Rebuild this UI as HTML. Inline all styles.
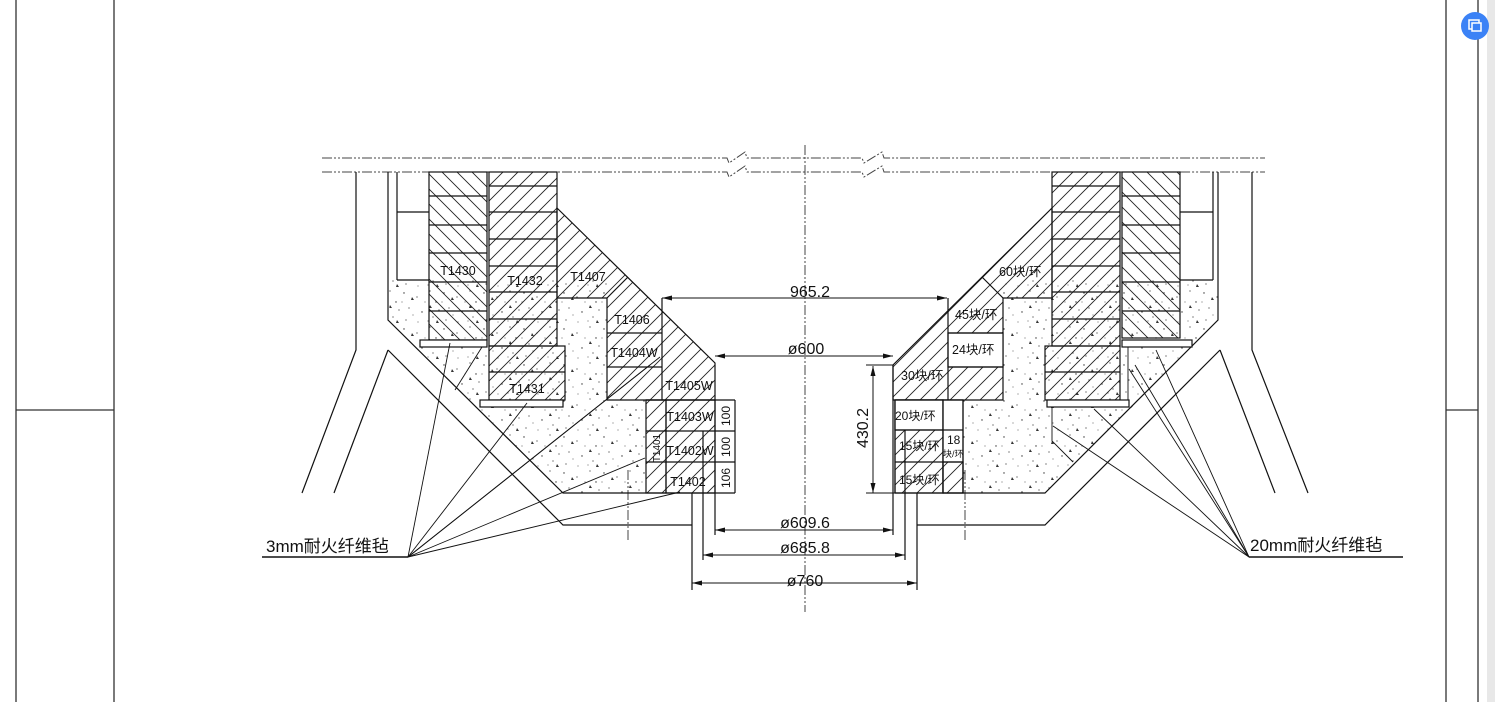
<!DOCTYPE html>
<html><head><meta charset="utf-8"><style>
html,body{margin:0;padding:0;background:#fff;}
svg{display:block}
text{font-family:"Liberation Sans","Noto Sans CJK SC",sans-serif;fill:#111}
</style></head><body>
<svg width="1495" height="702" viewBox="0 0 1495 702" xmlns="http://www.w3.org/2000/svg">
<defs>
<pattern id="hf" width="15" height="15" patternUnits="userSpaceOnUse"><path d="M-4,4 L4,-4 M0,15 L15,0 M11,19 L19,11" stroke="#222" stroke-width="0.9"/></pattern>
<pattern id="hb" width="15" height="15" patternUnits="userSpaceOnUse"><path d="M-4,11 L4,19 M0,0 L15,15 M11,-4 L19,4" stroke="#222" stroke-width="0.9"/></pattern>
<pattern id="cc" width="40" height="36" patternUnits="userSpaceOnUse">
<g fill="#333"><circle cx="4" cy="5" r="0.7"/><circle cx="17" cy="9" r="0.6"/><circle cx="30" cy="3" r="0.6"/><circle cx="36" cy="14" r="0.7"/><circle cx="9" cy="20" r="0.6"/><circle cx="22" cy="24" r="0.7"/><circle cx="33" cy="29" r="0.6"/><circle cx="6" cy="32" r="0.6"/><circle cx="18" cy="34" r="0.5"/><circle cx="39" cy="22" r="0.6"/><circle cx="25" cy="14" r="0.5"/><circle cx="13" cy="27" r="0.5"/><circle cx="2" cy="14" r="0.5"/><circle cx="28" cy="33" r="0.5"/>
<path d="M29,20 l3,0 l-2,-3z M11,12 l3,0 l-2,-3z M36,35 l3,0 l-2,-3z"/></g></pattern>
</defs>
<rect x="1487" y="0" width="8" height="702" fill="#e8e8e8"/>
<g stroke="#333" stroke-width="1.3">
<line x1="16" y1="0" x2="16" y2="702"/><line x1="114" y1="0" x2="114" y2="702"/>
<line x1="1446" y1="0" x2="1446" y2="702"/><line x1="1478" y1="0" x2="1478" y2="702"/>
<line x1="16" y1="410" x2="114" y2="410"/><line x1="1446" y1="410" x2="1478" y2="410"/>
</g>
<circle cx="1475" cy="26" r="14" fill="#3b82f6"/>
<rect x="1469" y="20" width="10" height="9" fill="none" stroke="#fff" stroke-width="1.5"/>
<rect x="1472" y="23" width="9" height="8" fill="#3b82f6" stroke="#fff" stroke-width="1.5"/>

<g stroke="#444" stroke-width="1" stroke-dasharray="10,2,2,2,2,2" fill="none">
<path d="M322,158 H727 L729,163 L745,152 L747,158 H862 L864,163 L882,152 L884,158 H1265"/>
<path d="M322,172 H727 L729,177 L745,166 L747,172 H862 L864,177 L882,166 L884,172 H1265"/>
<line x1="805" y1="145" x2="805" y2="612"/>
<line x1="628" y1="470" x2="628" y2="540"/>
<line x1="965" y1="470" x2="965" y2="540"/>
</g>

<polygon points="388,280 607,280 607,400 646,400 646,493 563,493 390,320" fill="url(#cc)"/>
<polygon points="963,400 1003,400 1003,280 1218,280 1218,320 1047,493 963,493" fill="url(#cc)"/>

<g stroke="#111" stroke-width="1.2" fill="none">
<polyline points="356,172 356,350 302,493"/>
<line x1="388" y1="350" x2="334" y2="493"/>
<polyline points="388,350 563,525 692,525"/>
<polyline points="388,172 388,320 563,493 646,493"/>
<line x1="397" y1="172" x2="397" y2="280"/>
<line x1="397" y1="212" x2="429" y2="212"/><line x1="397" y1="280" x2="429" y2="280"/>
<rect x="429" y="172" width="58" height="168" fill="url(#hb)"/>
<path d="M429,196H487M429,225H487M429,253H487M429,282H487M429,311H487"/>
<rect x="420" y="340" width="67" height="7" fill="#fff"/>
<rect x="489" y="172" width="68" height="174" fill="url(#hf)"/>
<path d="M489,186H557M489,212H557M489,239H557M489,266H557M489,292H557M489,319H557"/>
<rect x="489" y="346" width="76" height="54" fill="url(#hf)"/>
<line x1="489" y1="372" x2="565" y2="372"/>
<rect x="480" y="400" width="83" height="7" fill="#fff"/>
<path d="M482,347 L455,390 M489,347 V400" stroke-width="0.9"/>
<polygon points="557,208 715,363 715,400 607,400 607,298 557,298" fill="url(#hf)"/>
<path d="M607,298 L628,277 M662,298 V400 M607,333 H662 M607,367 H662"/>
<rect x="646" y="400" width="20" height="93" fill="url(#hf)"/>
<rect x="666" y="400" width="49" height="93" fill="url(#hf)"/>
<path d="M646,431H735M646,462H735M703,431V493M715,400V493M735,400V493M646,400H735M646,493H735"/>
<line x1="692" y1="493" x2="692" y2="590"/>
<line x1="703" y1="493" x2="703" y2="560"/>
<line x1="715" y1="493" x2="715" y2="535"/>

<polyline points="1252,172 1252,350 1308,493"/>
<line x1="1220" y1="350" x2="1275" y2="493"/>
<polyline points="1220,350 1045,525 917,525"/>
<polyline points="1218,172 1218,320 1045,493 963,493"/>
<line x1="1213" y1="172" x2="1213" y2="280"/>
<line x1="1180" y1="212" x2="1213" y2="212"/><line x1="1180" y1="280" x2="1213" y2="280"/>
<rect x="1122" y="172" width="58" height="166" fill="url(#hb)"/>
<path d="M1122,196H1180M1122,225H1180M1122,253H1180M1122,282H1180M1122,311H1180"/>
<rect x="1122" y="340" width="70" height="7" fill="#fff"/>
<rect x="1052" y="172" width="68" height="174" fill="url(#hf)"/>
<path d="M1052,186H1120M1052,212H1120M1052,239H1120M1052,266H1120M1052,292H1120M1052,319H1120"/>
<rect x="1045" y="346" width="75" height="54" fill="url(#hf)"/>
<line x1="1045" y1="372" x2="1120" y2="372"/>
<rect x="1047" y="400" width="82" height="7" fill="#fff"/>
<path d="M1128,347 V400 M1052,407 V441 L1073,462" stroke-width="0.9"/>
<polygon points="1052,208 893,365 893,400 1003,400 1003,298 1052,298" fill="url(#hf)"/>
<rect x="948" y="333" width="55" height="34" fill="#fff"/>
<path d="M982,277 L1003,298 M948,298 V400 M948,333 H1003 M948,367 H1003"/>
<rect x="895" y="400" width="48" height="93" fill="url(#hf)"/>
<rect x="895" y="400" width="48" height="30" fill="#fff"/>
<rect x="943" y="400" width="20" height="93" fill="#fff"/>
<rect x="943" y="462" width="20" height="31" fill="url(#hf)"/>
<path d="M895,430H963M895,462H963M943,400V493M963,400V493M895,400H963M895,493H963M895,400V493"/>
<line x1="905" y1="430" x2="905" y2="560"/>
<line x1="917" y1="493" x2="917" y2="590"/>
<line x1="893" y1="365" x2="893" y2="535"/>
</g>

<g stroke="#111" stroke-width="1" fill="none">
<line x1="662" y1="298" x2="947" y2="298"/>
<line x1="715" y1="356" x2="893" y2="356"/>
<line x1="715" y1="530" x2="893" y2="530"/>
<line x1="703" y1="555" x2="905" y2="555"/>
<line x1="692" y1="583" x2="917" y2="583"/>
<line x1="873" y1="366" x2="873" y2="493"/>
<line x1="866" y1="365" x2="893" y2="365"/>
<line x1="866" y1="493" x2="895" y2="493"/>
</g>
<g fill="#111">
<path d="M662,298 l10,-2.5 v5z M947,298 l-10,-2.5 v5z"/>
<path d="M715,356 l10,-2.5 v5z M893,356 l-10,-2.5 v5z"/>
<path d="M715,530 l10,-2.5 v5z M893,530 l-10,-2.5 v5z"/>
<path d="M703,555 l10,-2.5 v5z M905,555 l-10,-2.5 v5z"/>
<path d="M692,583 l10,-2.5 v5z M917,583 l-10,-2.5 v5z"/>
<path d="M873,366 l-2.5,10 h5z M873,493 l-2.5,-10 h5z"/>
</g>
<g font-size="16" text-anchor="middle">
<text x="810" y="297">965.2</text>
<text x="806" y="354">ø600</text>
<text x="805" y="528">ø609.6</text>
<text x="805" y="553">ø685.8</text>
<text x="805" y="586">ø760</text>
<text transform="translate(868,428) rotate(-90)">430.2</text>
</g>

<g font-size="12.5" text-anchor="middle">
<text x="458" y="275">T1430</text>
<text x="525" y="285">T1432</text>
<text x="588" y="281">T1407</text>
<text x="632" y="324">T1406</text>
<text x="634" y="357">T1404W</text>
<text x="689" y="390">T1405W</text>
<text x="527" y="393">T1431</text>
<text x="690" y="421">T1403W</text>
<text x="690" y="455">T1402W</text>
<text x="688" y="486">T1402</text>
<text transform="translate(660,448) rotate(-90)" font-size="10">T1401</text>
<text transform="translate(730,416) rotate(-90)" font-size="12">100</text>
<text transform="translate(730,447) rotate(-90)" font-size="12">100</text>
<text transform="translate(730,478) rotate(-90)" font-size="12">106</text>
</g>
<g font-size="12.5">
<text x="999" y="276">60块/环</text>
<text x="955" y="319">45块/环</text>
<text x="952" y="354">24块/环</text>
<text x="901" y="380">30块/环</text>
<text x="895" y="420" font-size="12">20块/环</text>
<text x="899" y="450" font-size="12">15块/环</text>
<text x="899" y="484" font-size="12">15块/环</text>
<text x="947" y="444" font-size="12">18</text>
<text x="943" y="457" font-size="9">块/环</text>
</g>

<g stroke="#111" stroke-width="0.9">
<line x1="408" y1="557" x2="450" y2="343"/>
<line x1="408" y1="557" x2="527" y2="403"/>
<line x1="408" y1="557" x2="650" y2="365"/>
<line x1="408" y1="557" x2="660" y2="357"/>
<line x1="408" y1="557" x2="645" y2="458"/>
<line x1="408" y1="557" x2="680" y2="492"/>
<line x1="262" y1="557" x2="408" y2="557" stroke-width="1.4"/>
<line x1="1249" y1="557" x2="1156" y2="350"/>
<line x1="1249" y1="557" x2="1135" y2="365"/>
<line x1="1249" y1="557" x2="1129" y2="369"/>
<line x1="1249" y1="557" x2="1094" y2="409"/>
<line x1="1249" y1="557" x2="1053" y2="426"/>
<line x1="1249" y1="557" x2="1403" y2="557" stroke-width="1.4"/>
</g>
<text x="266" y="552" font-family="Liberation Serif,Noto Serif CJK SC,serif" font-size="17">3mm耐火纤维毡</text>
<text x="1250" y="551" font-family="Liberation Serif,Noto Serif CJK SC,serif" font-size="17">20mm耐火纤维毡</text>
</svg>
</body></html>
